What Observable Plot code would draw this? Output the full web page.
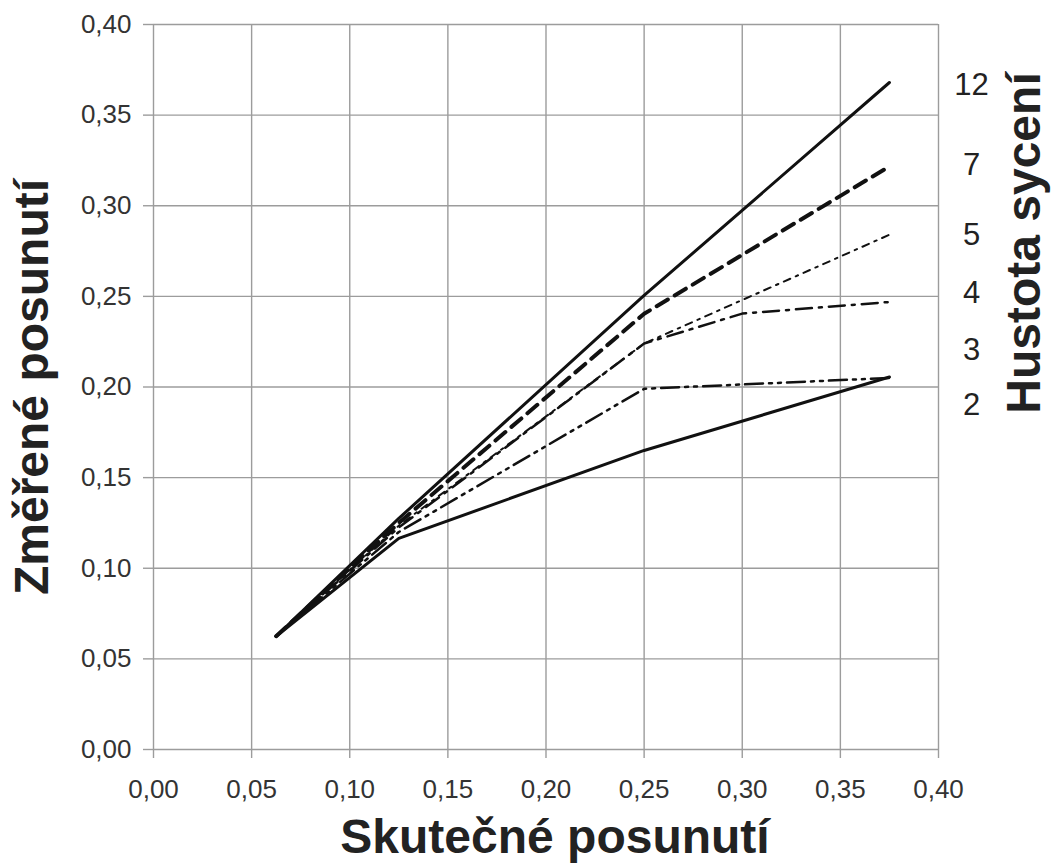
<!DOCTYPE html>
<html>
<head>
<meta charset="utf-8">
<script src="https://cdn.jsdelivr.net/npm/d3@7"></script>
<script src="https://cdn.jsdelivr.net/npm/@observablehq/plot@0.6"></script>
<style>
  html, body { margin: 0; padding: 0; background: #fff; }
  #chart svg { display: block; }
</style>
</head>
<body>
<div id="chart"></div>
<script>
// Tick values (both axes)
const ticks = [0, 0.05, 0.10, 0.15, 0.20, 0.25, 0.30, 0.35, 0.40];

// Series: actual displacement (x) vs measured displacement (y), per density
const xs = [0.0625, 0.125, 0.25, 0.375];
const y12 = [0.0625, 0.1275, 0.2505, 0.368];
const y7  = [0.0625, 0.1250, 0.2404, 0.3217];
const y5  = [0.0625, 0.1235, 0.2240, 0.2840];
const x4  = [0.0625, 0.125, 0.25, 0.30, 0.375];
const y4  = [0.0625, 0.1225, 0.2240, 0.2405, 0.2469];
const y3  = [0.0625, 0.1200, 0.1990, 0.2050];
const y2  = [0.0625, 0.1165, 0.1650, 0.2055];

// Legend (density labels, right side)
const legendLabels = ["12", "7", "5", "4", "3", "2"];
const legendY = [0.3664, 0.3222, 0.2836, 0.2516, 0.2202, 0.1899];

const xTitle = "Skutečné posunutí";
const yTitle = "Změřené posunutí";
const legendTitle = "Hustota sycení";

const toRows = (xv, yv) => xv.map((x, i) => ({x, y: yv[i]}));
const fmt = d => d.toFixed(2).replace(".", ",");

const series = [
  {rows: toRows(xs, y12), width: 3.0, dash: null},
  {rows: toRows(xs, y7),  width: 4.0, dash: "13,8"},
  {rows: toRows(xs, y5),  width: 2.0, dash: "7,6,2.5,6"},
  {rows: toRows(x4, y4),  width: 2.5, dash: "16,7,3,7"},
  {rows: toRows(xs, y3),  width: 2.5, dash: "18,6,3,6,3,6"},
  {rows: toRows(xs, y2),  width: 3.0, dash: null}
];

const lineMarks = series.map(s => Plot.line(s.rows, {
  x: "x", y: "y", stroke: "#111", strokeWidth: s.width,
  strokeDasharray: s.dash ?? undefined, strokeLinejoin: "round"
}));

const chart = Plot.plot({
  width: 1054,
  height: 863,
  marginLeft: 153,
  marginRight: 116,
  marginTop: 24,
  marginBottom: 114,
  style: {fontFamily: "'Liberation Sans', Arial, sans-serif", fontSize: "26px", color: "#333", background: "#fff"},
  x: {domain: [0, 0.4], ticks, tickFormat: fmt},
  y: {domain: [0, 0.4], ticks, tickFormat: fmt},
  marks: [
    Plot.gridX(ticks, {stroke: "#9c9c9c", strokeOpacity: 1, strokeWidth: 1.4}),
    Plot.gridY(ticks, {stroke: "#9c9c9c", strokeOpacity: 1, strokeWidth: 1.4}),
    Plot.axisX(ticks, {tickSize: 9, tickPadding: 21, stroke: "#9c9c9c", strokeWidth: 1.4, fill: "#333", label: null, tickFormat: fmt}),
    Plot.axisY(ticks, {tickSize: 10, tickPadding: 12, stroke: "#9c9c9c", strokeWidth: 1.4, fill: "#333", label: null, tickFormat: fmt}),
    ...lineMarks,
    Plot.text(legendLabels, {
      y: (d, i) => legendY[i], frameAnchor: "right", dx: 33,
      text: d => d, textAnchor: "middle", lineAnchor: "middle", fontSize: 31, fill: "#222"
    }),
    Plot.text([xTitle], {frameAnchor: "bottom", dx: 9, dy: 88, textAnchor: "middle", lineAnchor: "middle", fontSize: 48, fontWeight: "bold", fill: "#222"}),
    Plot.text([yTitle], {frameAnchor: "left", dx: -121, rotate: -90, textAnchor: "middle", lineAnchor: "middle", fontSize: 48, fontWeight: "bold", fill: "#222"}),
    Plot.text([legendTitle], {frameAnchor: "right", dx: 86, dy: -144, rotate: -90, textAnchor: "middle", lineAnchor: "middle", fontSize: 48, fontWeight: "bold", fill: "#222"})
  ]
});

document.getElementById("chart").appendChild(chart);
</script>
</body>
</html>
